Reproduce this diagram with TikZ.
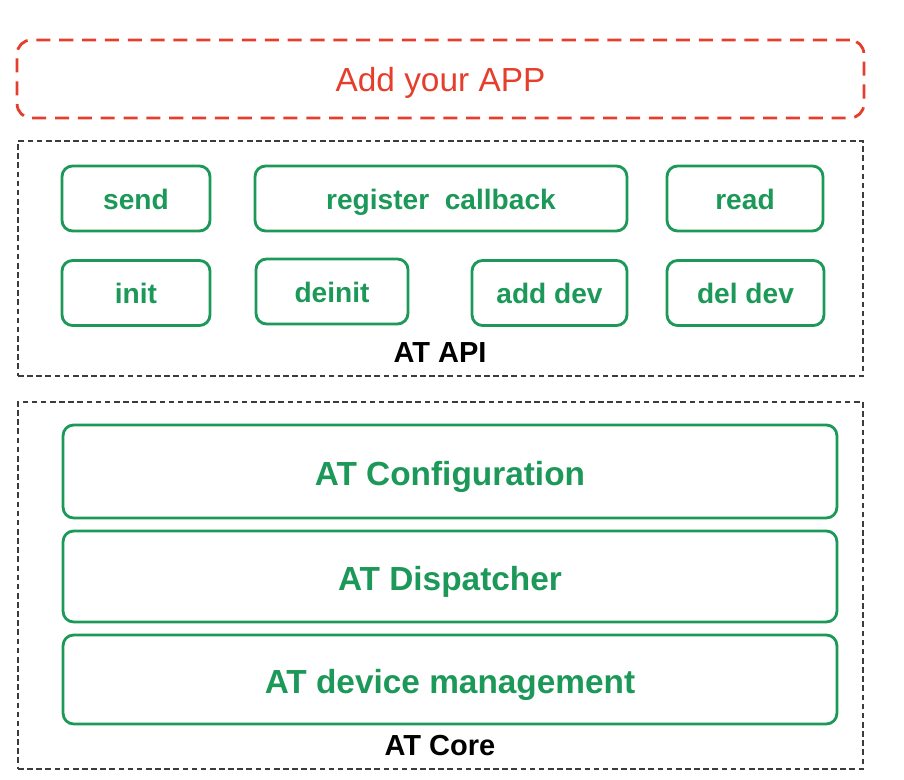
\documentclass[tikz,border=0pt]{standalone}
\usepackage{fontspec}
\setmainfont{Liberation Sans}
\usepackage{tikz}
\usetikzlibrary{positioning}

\definecolor{atgreen}{RGB}{28,152,88}
\definecolor{appred}{RGB}{230,62,44}
\definecolor{framegray}{RGB}{60,60,60}

\tikzset{
    apibox/.style={draw=atgreen, line width=1.6pt, rounded corners=6pt, text=atgreen,
        font=\bfseries\fontsize{16}{18}\selectfont, minimum height=1.3cm, inner sep=0pt,
        text height=12.2pt, text depth=0pt},
    corebox/.style={apibox, font=\bfseries\fontsize{19}{22}\selectfont, minimum width=15.48cm,
        text height=15.4pt},
    layerframe/.style={draw=framegray, line width=0.7pt, dash pattern=on 3.2pt off 2pt,
        minimum width=16.9cm, inner sep=0pt},
    layerlabel/.style={font=\bfseries\fontsize{16.5}{18}\selectfont, text=black},
}

\begin{document}
\begin{tikzpicture}[x=0.02cm, y=-0.02cm]
    \useasboundingbox (0,0) rectangle (904,780);

    % application layer
    \node[draw=appred, line width=1.6pt, dash pattern=on 8pt off 5pt, rounded corners=8pt,
          minimum width=16.94cm, minimum height=1.56cm, text=appred,
          text height=14.4pt, text depth=0pt,
          font=\fontsize{19}{22}\selectfont] (app) at (440.5,79) {Add your APP};

    % API layer
    \node[layerframe, minimum height=4.7cm] (apiframe) at (440.5,258.5) {};
    \node[apibox, minimum width=2.96cm] (send) at (136,198.5) {send};
    \node[apibox, minimum width=7.44cm] (regcb) at (441,198.5) {register\ \ callback};
    \node[apibox, minimum width=3.12cm] (read) at (745,198.5) {read};
    \node[apibox, minimum width=2.96cm] (init) at (136,293) {init};
    \node[apibox, minimum width=3.04cm] (deinit) at (332,291.5) {deinit};
    \node[apibox, minimum width=3.1cm] (adddev) at (549.5,293) {add dev};
    \node[apibox, minimum width=3.14cm] (deldev) at (745.5,293) {del dev};
    \node[layerlabel] (apilabel) at (440,353) {AT API};

    % core layer
    \node[layerframe, minimum height=7.34cm] (coreframe) at (440.5,585.5) {};
    \node[corebox, minimum height=1.86cm] (config) at (450,471.5) {AT Configuration};
    \node[corebox, minimum height=1.82cm] (dispatch) at (450,576.5) {AT Dispatcher};
    \node[corebox, minimum height=1.78cm] (devmgmt) at (450,679.5) {AT device management};
    \node[layerlabel] (corelabel) at (440,746) {AT Core};
\end{tikzpicture}
\end{document}
